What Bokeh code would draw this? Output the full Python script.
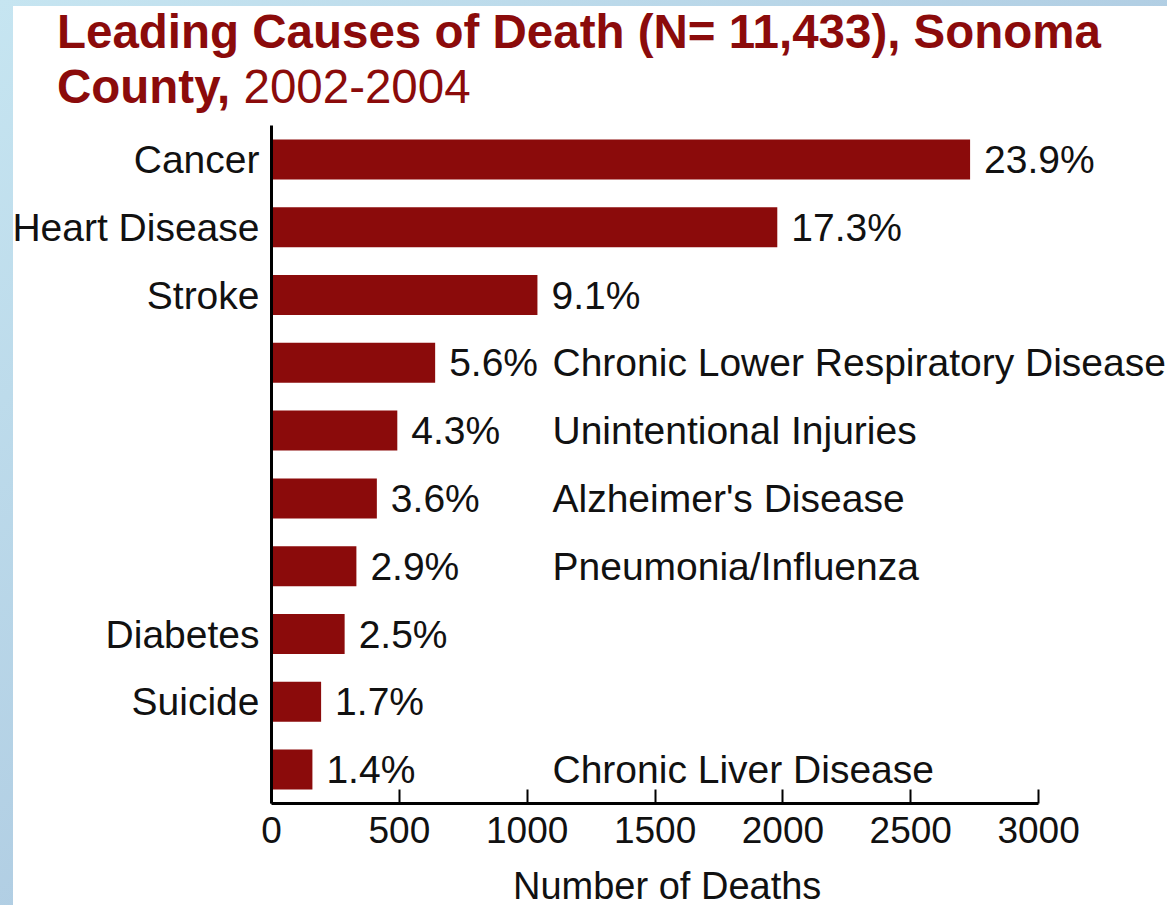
from bokeh.plotting import figure
from bokeh.models import ColumnDataSource, Range1d, FixedTicker, Div
from bokeh.layouts import column
from bokeh.embed import file_html
from bokeh.resources import INLINE
from bokeh.core.properties import value

# ---- data ----
causes = ["Cancer", "Heart Disease", "Stroke", "Chronic Lower Respiratory Disease",
          "Unintentional Injuries", "Alzheimer's Disease", "Pneumonia/Influenza",
          "Diabetes", "Suicide", "Chronic Liver Disease"]
deaths = [2732, 1978, 1040, 640, 492, 412, 332, 286, 194, 160]
percents = ["23.9%", "17.3%", "9.1%", "5.6%", "4.3%", "3.6%", "2.9%", "2.5%", "1.7%", "1.4%"]
name_on_axis = [True, True, True, False, False, False, False, True, True, False]
x_ticks = [0, 500, 1000, 1500, 2000, 2500, 3000]
title_line1 = "Leading Causes of Death (N= 11,433), Sonoma"
title_line2_bold = "County,"
title_line2_plain = "2002-2004"
x_label = "Number of Deaths"

# ---- style ----
RED = "#8B0B0B"
FONT = "Liberation Sans"
FS = "39px"
TXT = "#111111"

n = len(causes)
ypos = [n - i - 0.5 for i in range(n)]  # first category on top

src = ColumnDataSource(dict(y=ypos, deaths=deaths, pct=percents))
right_idx = [i for i, a in enumerate(name_on_axis) if not a]
src_right = ColumnDataSource(dict(y=[ypos[i] for i in right_idx],
                                  x=[0] * len(right_idx),
                                  name=[causes[i] for i in right_idx]))

title_div = Div(
    text=(f'<div style="font-family:\'{FONT}\',Arial,sans-serif;font-size:47.5px;line-height:55px;'
          f'color:{RED};padding-left:57px;padding-top:4px;white-space:nowrap;">'
          f'<b>{title_line1}</b><br><b>{title_line2_bold}</b> {title_line2_plain}</div>'),
    width=1167, height=125, margin=(0, 0, 0, 0))

p = figure(width=1167, height=742, output_backend="svg", toolbar_location=None,
           title=None,
           y_range=Range1d(0, n),
           x_range=Range1d(0, 3504),
           min_border_left=271, min_border_right=0, min_border_top=0, min_border_bottom=64,
           margin=(0, 0, 0, 0))
p.outline_line_color = None
p.grid.visible = False
p.background_fill_color = "white"
p.border_fill_color = None

p.hbar(y="y", right="deaths", left=0, height=0.59, source=src,
       fill_color=RED, line_color=None)

p.text(x="deaths", y="y", text="pct", source=src, x_offset=14,
       text_baseline="middle", text_align="left", text_font=value(FONT),
       text_font_size=FS, text_color=TXT)
p.text(x="x", y="y", text="name", source=src_right, x_offset=281,
       text_baseline="middle", text_align="left", text_font=value(FONT),
       text_font_size=FS, text_color=TXT)

xa = p.xaxis[0]
xa.ticker = FixedTicker(ticks=x_ticks)
xa.bounds = (0, 3000)
xa.major_tick_in = 14
xa.major_tick_out = 0
xa.minor_tick_in = 0
xa.minor_tick_out = 0
xa.major_tick_line_width = 2
xa.major_tick_line_color = "black"
xa.axis_line_width = 3
xa.axis_line_color = "black"
xa.major_label_standoff = 13
xa.major_label_text_font = FONT
xa.major_label_text_font_size = "37px"
xa.major_label_text_color = TXT

ya = p.yaxis[0]
ya.ticker = FixedTicker(ticks=ypos)
ya.major_tick_in = 0
ya.major_tick_out = 0
ya.minor_tick_in = 0
ya.minor_tick_out = 0
ya.axis_line_width = 3
ya.axis_line_color = "black"
ya.major_label_standoff = 12
ya.major_label_text_font = FONT
ya.major_label_text_font_size = FS
ya.major_label_text_color = TXT
ya.major_label_overrides = {y: (c if a else "") for y, c, a in zip(ypos, causes, name_on_axis)}

xlabel_div = Div(
    text=(f'<div style="font-family:\'{FONT}\',Arial,sans-serif;font-size:38px;line-height:38px;'
          f'color:{TXT};padding-left:513px;white-space:nowrap;">{x_label}</div>'),
    width=1167, height=38, margin=(0, 0, 0, 0))

layout = column(title_div, p, xlabel_div, spacing=0, styles={
    "background": ("linear-gradient(#ffffff, #ffffff) 13px 6px / calc(100% - 13px) calc(100% - 6px) no-repeat, "
                   "linear-gradient(to bottom right, #c6e5f1, #9db8d6)")})
open("out.html", "w").write(file_html(layout, INLINE))
